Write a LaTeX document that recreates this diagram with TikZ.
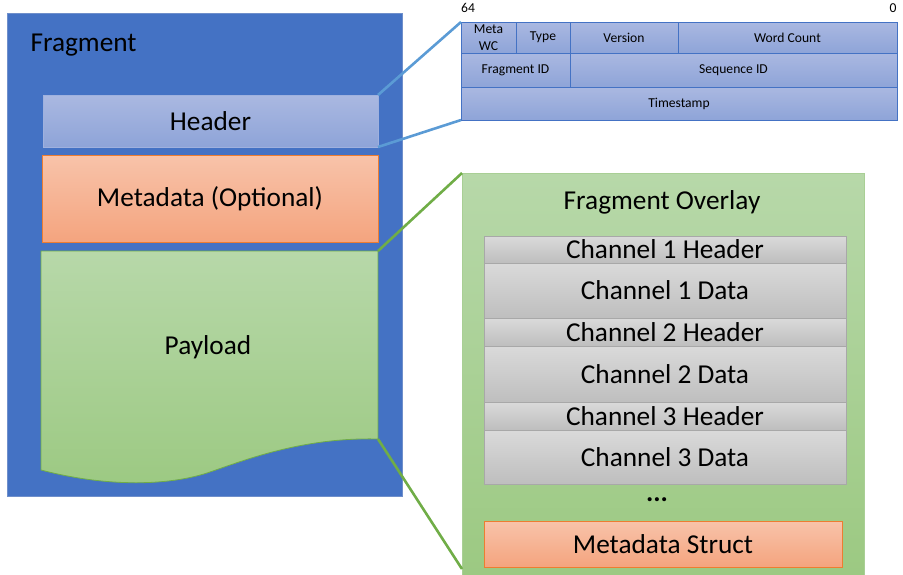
\documentclass[tikz,border=0pt]{standalone}
\usepackage{fontspec}
\setmainfont{Carlito}
\definecolor{fragblue}{HTML}{4472C4}
\definecolor{fragedge}{HTML}{6F8FCB}
\definecolor{hdrtop}{HTML}{AAB8E1}
\definecolor{hdrbot}{HTML}{8EA4D8}
\definecolor{hdredge}{HTML}{9FB1DE}
\definecolor{ortop}{HTML}{F8C3AA}
\definecolor{orbot}{HTML}{F4A47E}
\definecolor{oredge}{HTML}{ED7D31}
\definecolor{grtop}{HTML}{B7D8A9}
\definecolor{grbot}{HTML}{9CC982}
\definecolor{gredge}{HTML}{70AD47}
\definecolor{gytop}{HTML}{DADADA}
\definecolor{gybot}{HTML}{BEBEBE}
\definecolor{gyedge}{HTML}{A8A8A8}
\definecolor{linkblue}{HTML}{5B9BD5}
\tikzset{
  box/.style={anchor=north west,inner sep=0pt,outer sep=0pt,line width=0.8pt},
  bigtext/.style={font=\fontsize{27.3}{31}\selectfont},
  smalltext/.style={font=\fontsize{13.6}{15}\selectfont,align=center},
  hdrbox/.style={box,draw=hdredge,top color=hdrtop,bottom color=hdrbot},
  cell/.style={box,smalltext,draw=fragblue,top color=hdrtop,bottom color=hdrbot},
  orbox/.style={box,bigtext,draw=oredge,top color=ortop,bottom color=orbot},
  chbox/.style={box,bigtext,draw=gyedge,top color=gytop,bottom color=gybot},
  link/.style={line width=2.6pt}
}
\begin{document}
\begin{tikzpicture}[x=1pt,y=-1pt]
	\useasboundingbox (0,0) rectangle (903,574);
	% fragment
	\node[box,draw=fragedge,fill=fragblue,minimum width=395pt,minimum height=483pt] (frag) at (7,13) {};
	\node[bigtext,anchor=west] (fragl) at (27,45) {Fragment};
	\node[hdrbox,bigtext,minimum width=335pt,minimum height=52pt] (hdr) at (43,95) {Header};
	\node[orbox,minimum width=336pt,minimum height=87pt] (meta) at (42,155) {Metadata (Optional)};
	\draw[line width=0.8pt,draw=gredge,top color=grtop,bottom color=grbot]
		(41,251) -- (378,251) -- (378,439)
		.. controls (300,437) and (240,462) .. (207,473)
		.. controls (170,485) and (110,488) .. (41,470) -- cycle;
	\coordinate (paytr) at (378,251);
	\coordinate (paybr) at (378,439);
	\node[bigtext] (pay) at (208,347) {Payload};
	% header layout
	\node[smalltext] (hi) at (468,8) {64};
	\node[smalltext] (lo) at (893,8) {0};
	\node[cell,minimum width=55pt,minimum height=31pt] (mwc) at (461,22) {Meta\\[1.5pt]WC};
	\node[cell,minimum width=54pt,minimum height=31pt] (type) at (516,22) {Type};
	\node[cell,minimum width=108pt,minimum height=31pt] (ver) at (570,22) {Version};
	\node[cell,minimum width=219pt,minimum height=31pt] (wc) at (678,22) {Word Count};
	\node[cell,minimum width=109pt,minimum height=34pt] (fid) at (461,53) {Fragment ID};
	\node[cell,minimum width=327pt,minimum height=34pt] (sid) at (570,53) {Sequence ID};
	\node[cell,minimum width=436pt,minimum height=33pt] (ts) at (461,87) {Timestamp};
	\draw[link,linkblue] (hdr.north east) -- (mwc.north west);
	\draw[link,linkblue] (hdr.south east) -- (ts.south west);
	% overlay
	\node[box,draw=grtop!80!gredge,top color=grtop,bottom color=grbot,minimum width=402pt,minimum height=402pt] (ovl) at (462,173) {};
	\node[bigtext] (ovll) at (662,202) {Fragment Overlay};
	\node[chbox,minimum width=362pt,minimum height=27pt] (c1h) at (484,236) {Channel 1 Header};
	\node[chbox,minimum width=362pt,minimum height=55pt] (c1d) at (484,263) {Channel 1 Data};
	\node[chbox,minimum width=362pt,minimum height=28pt] (c2h) at (484,318) {Channel 2 Header};
	\node[chbox,minimum width=362pt,minimum height=56pt] (c2d) at (484,346) {Channel 2 Data};
	\node[chbox,minimum width=362pt,minimum height=28pt] (c3h) at (484,402) {Channel 3 Header};
	\node[chbox,minimum width=362pt,minimum height=54pt] (c3d) at (484,430) {Channel 3 Data};
	\node[bigtext] (dots) at (657,500) {\textbf{...}};
	\node[orbox,minimum width=358pt,minimum height=46pt] (mstr) at (484,521) {Metadata Struct};
	\coordinate (ovlbl) at (462,569);
	\draw[link,gredge] (paytr) -- (ovl.north west);
	\draw[link,gredge] (paybr) -- (ovlbl);
\end{tikzpicture}
\end{document}
